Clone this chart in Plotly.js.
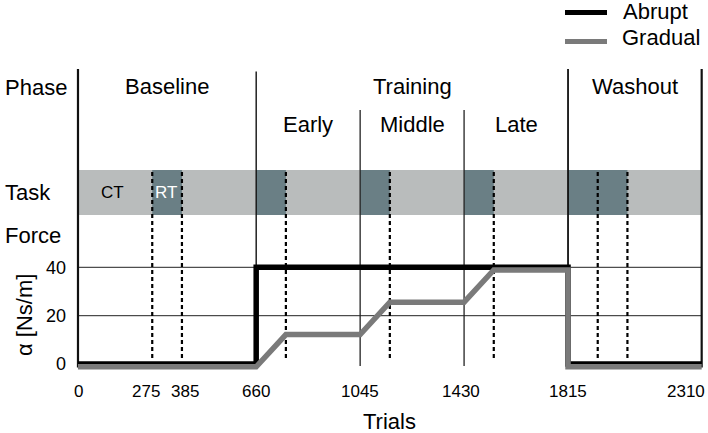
<!DOCTYPE html>
<html>
<head>
<meta charset="utf-8">
<script src="https://cdn.plot.ly/plotly-3.0.1.min.js"></script>
<style>html,body{margin:0;padding:0;background:#fff;}#chart{width:708px;height:433px;}</style>
</head>
<body>
<div id="chart"></div>
<script>
// ---- data ----
const xTicks = [0, 275, 385, 660, 1045, 1430, 1815, 2310];
const yTicks = [0, 20, 40];
const abruptX = [0, 660, 660, 1815, 1815, 2310];
const abruptY = [0, 0, 40, 40, 0, 0];
const gradualX = [0, 660, 770, 1045, 1155, 1430, 1540, 1815, 1815, 2310];
const gradualY = [0, 0, 13.3, 13.3, 26.7, 26.7, 40, 40, 0, 0];
const phaseNames = ['Baseline', 'Training', 'Washout'];
const phaseEdges = [0, 660, 1815, 2310];
const subNames = ['Early', 'Middle', 'Late'];
const subEdges = [660, 1045, 1430, 1815];
const rtStart = [275, 660, 1045, 1430, 1815];
const rtEnd = [385, 770, 1155, 1540, 2035];
const dottedX = [275, 385, 770, 1155, 1540, 1925, 2035];
const rowLabels = ['Phase', 'Task', 'Force'];
const taskLabels = ['CT', 'RT'];
const seriesNames = ['Abrupt', 'Gradual'];
const xTitle = 'Trials';
const yTitle = 'α [Ns/m]';

// ---- geometry helpers (pixel -> axis value) ----
const Y0PX = 364.1, YSCALE = 2.42;
const v = py => (Y0PX - py) / YSCALE;
const PLOT_L = 70, PLOT_W = 636, PLOT_T = 69, PLOT_H = 305;
const XMIN = -29.6, XMAX = 2326;
const XSCALE = PLOT_W / (XMAX - XMIN);
const xv = px => (px - PLOT_L) / XSCALE + XMIN;
const paperX = px => (px - PLOT_L) / PLOT_W;
const paperY = py => (PLOT_T + PLOT_H - py) / PLOT_H;
const YMIN = v(PLOT_T + PLOT_H), YMAX = v(PLOT_T);
const GRAY_SHIFT = 2.7 / YSCALE;           // draw gray line a few px lower so both lines stay visible
const tickNudge = [1, -6, 3, 0, 0, -3, 0, -16]; // px shifts of x tick labels

const FONT = 'Liberation Sans, Arial, Helvetica, sans-serif';
const BLACK = '#000000';
const GRAY = '#7a7a7a';
const LIGHT = '#b9bcbc';
const DARK = '#6a7f85';

const traces = [
  {x: abruptX, y: abruptY, name: seriesNames[0], mode: 'lines', type: 'scatter',
   line: {color: BLACK, width: 5.5}, hoverinfo: 'skip'},
  {x: gradualX, y: gradualY, name: seriesNames[1], mode: 'lines', type: 'scatter', yaxis: 'y2',
   line: {color: GRAY, width: 5.5}, hoverinfo: 'skip'}
];

const shapes = [];
// task band
shapes.push({type: 'rect', xref: 'x', yref: 'y', x0: phaseEdges[0], x1: phaseEdges[3],
  y0: v(215), y1: v(170), fillcolor: LIGHT, line: {width: 0}, layer: 'below'});
rtStart.forEach((s, i) => shapes.push({type: 'rect', xref: 'x', yref: 'y', x0: s, x1: rtEnd[i],
  y0: v(215), y1: v(170), fillcolor: DARK, line: {width: 0}, layer: 'below'}));
// grid lines
yTicks.filter(t => t > 0).forEach(t => shapes.push({type: 'line', xref: 'x', yref: 'y',
  x0: phaseEdges[0], x1: phaseEdges[3], y0: t, y1: t, line: {color: '#222', width: 1}, layer: 'below'}));
// phase boundaries
const phaseTop = [v(69), v(71.5), v(69), v(69)];
const phaseW = [2.2, 1.4, 1.8, 2.2];
phaseEdges.forEach((e, i) => shapes.push({type: 'line', xref: 'x', yref: 'y', x0: e, x1: e,
  y0: v(367.5), y1: phaseTop[i], line: {color: '#111', width: phaseW[i]}, layer: 'below'}));
// sub-phase boundaries
subEdges.slice(1, 3).forEach(e => shapes.push({type: 'line', xref: 'x', yref: 'y', x0: e, x1: e,
  y0: v(366), y1: v(110), line: {color: '#222', width: 1.3}, layer: 'below'}));
// dotted block lines
dottedX.forEach(d => shapes.push({type: 'line', xref: 'x', yref: 'y', x0: d, x1: d,
  y0: v(358), y1: v(170), line: {color: BLACK, width: 2.2, dash: '4px,3px'}, layer: 'below'}));
// legend samples
shapes.push({type: 'line', xref: 'paper', yref: 'paper', x0: paperX(565), x1: paperX(607),
  y0: paperY(12.5), y1: paperY(12.5), line: {color: BLACK, width: 5}});
shapes.push({type: 'line', xref: 'paper', yref: 'paper', x0: paperX(565), x1: paperX(607),
  y0: paperY(41.5), y1: paperY(41.5), line: {color: GRAY, width: 5}});

const ann = [];
const txt = (text, x, y, size, opts) => Object.assign({text: text, x: x, y: y, showarrow: false,
  font: {family: FONT, size: size, color: '#000'}, xanchor: 'center', yanchor: 'middle'}, opts || {});
// row labels
const rowPy = [87, 192.5, 235.5];
rowLabels.forEach((r, i) => ann.push(txt(r, paperX(3), v(rowPy[i]), 22, {xref: 'paper', yref: 'y', xanchor: 'left'})));
// phase names
phaseNames.forEach((p, i) => ann.push(txt(p, (phaseEdges[i] + phaseEdges[i + 1]) / 2, v(86.5), 22, {xref: 'x', yref: 'y'})));
subNames.forEach((p, i) => ann.push(txt(p, (subEdges[i] + subEdges[i + 1]) / 2, v(124.5), 22, {xref: 'x', yref: 'y'})));
// task labels
ann.push(txt(taskLabels[0], xv(112.5), v(192), 17, {xref: 'x', yref: 'y'}));
ann.push(Object.assign(txt(taskLabels[1], xv(165.5), v(192), 17, {xref: 'x', yref: 'y'}), {font: {family: FONT, size: 17, color: '#fff'}}));
// x tick labels
xTicks.forEach((t, i) => ann.push(txt(String(t), t, paperY(391), 17, {xref: 'x', yref: 'paper', xshift: tickNudge[i]})));
// axis titles
ann.push(txt(xTitle, paperX(389.5), paperY(421.5), 22, {xref: 'paper', yref: 'paper'}));
ann.push(txt(yTitle, paperX(24), v(315), 22, {xref: 'paper', yref: 'y', textangle: -90}));
// legend text
ann.push(txt(seriesNames[0], paperX(621), paperY(11.5), 22, {xref: 'paper', yref: 'paper', xanchor: 'left'}));
ann.push(txt(seriesNames[1], paperX(620), paperY(38), 22, {xref: 'paper', yref: 'paper', xanchor: 'left'}));

const layout = {
  width: 708, height: 433,
  margin: {l: PLOT_L, r: 708 - PLOT_L - PLOT_W, t: PLOT_T, b: 433 - PLOT_T - PLOT_H, pad: 0},
  paper_bgcolor: '#fff', plot_bgcolor: 'rgba(0,0,0,0)',
  showlegend: false,
  font: {family: FONT, color: '#000'},
  xaxis: {range: [XMIN, XMAX], tickmode: 'array', tickvals: xTicks, showticklabels: false,
    ticks: '', showgrid: false, zeroline: false, showline: false, fixedrange: true},
  yaxis: {range: [YMIN, YMAX], tickmode: 'array', tickvals: yTicks, ticktext: yTicks.map(String),
    tickfont: {family: FONT, size: 18, color: '#000'}, ticks: '', showgrid: false, zeroline: false,
    showline: false, ticklabelstandoff: 3, fixedrange: true},
  yaxis2: {range: [YMIN + GRAY_SHIFT, YMAX + GRAY_SHIFT], overlaying: 'y', visible: false, fixedrange: true},
  shapes: shapes,
  annotations: ann
};

Plotly.newPlot('chart', traces, layout, {displayModeBar: false, staticPlot: true});
</script>
</body>
</html>
